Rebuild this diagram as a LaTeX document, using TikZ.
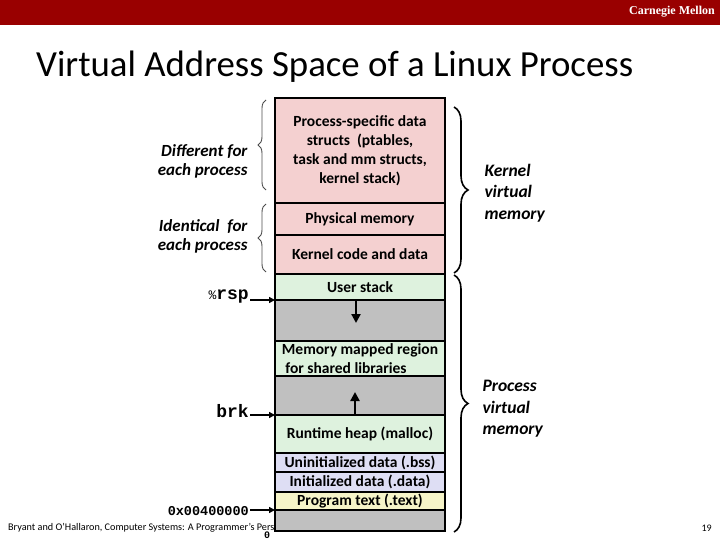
\documentclass[tikz,border=0pt]{standalone}
\usepackage{fontspec}
\setmainfont{Carlito}
\newfontfamily\monof{Liberation Mono}
\newfontfamily\serifh{Liberation Serif}
\usetikzlibrary{decorations.pathreplacing,arrows.meta}
\definecolor{hdr}{RGB}{153,0,0}
\definecolor{kpink}{RGB}{244,208,208}
\definecolor{ugreen}{RGB}{222,242,222}
\definecolor{ugray}{RGB}{192,192,192}
\definecolor{ulav}{RGB}{222,222,244}
\definecolor{uyel}{RGB}{246,244,200}
\begin{document}
\begin{tikzpicture}[x=1pt,y=-1pt,
  seg/.style={draw=black,line width=1.8pt,minimum width=170pt,anchor=north west,
    inner sep=0pt,outer sep=0pt,align=center,
    font=\fontsize{15.5}{19}\selectfont\bfseries},
  side/.style={font=\fontsize{17}{19}\selectfont\bfseries\itshape},
  rside/.style={font=\fontsize{17.5}{21.5}\selectfont\bfseries\itshape,anchor=west,align=left},
  addr/.style={font=\fontsize{18}{20}\selectfont\monof\bfseries,anchor=east,inner sep=1pt},
  ptr/.style={-{Triangle[length=6pt,width=6pt]},line width=2pt},
  growarrow/.style={-{Triangle[length=9pt,width=9pt]},line width=2.5pt},
  lbrace/.style={decorate,decoration={brace,amplitude=8pt},draw=black!70,line width=0.9pt},
  rbrace/.style={decorate,decoration={brace,amplitude=14pt},draw=black,line width=1.6pt}]
\useasboundingbox (0,0) rectangle (720,540);
\fill[hdr] (0,0) rectangle (720,25);
\node[anchor=east,text=white,font=\fontsize{12}{12}\selectfont\serifh\bfseries,inner sep=0pt] (cmu) at (715,12) {Carnegie Mellon};
\node[anchor=base west,inner sep=0pt,font=\fontsize{36.8}{40}\selectfont] (title) at (36,77) {Virtual Address Space of a Linux Process};
% footer (partly hidden behind the box)
\node[anchor=west,inner sep=0pt,font=\fontsize{10.2}{11}\selectfont] (foot) at (8,528) {Bryant and O’Hallaron, Computer Systems: A Programmer’s Perspective, Third Edition};
\node[anchor=east,inner sep=0pt,font=\fontsize{10}{11}\selectfont] (pg) at (712,528) {19};
% memory segments
\node[seg,fill=kpink,minimum height=105pt] (ps) at (275,98) {Process-specific data\\structs\ \ (ptables,\\task and mm structs,\\kernel stack)};
\node[seg,fill=kpink,minimum height=32pt] (pm) at (ps.south west) {Physical memory};
\node[seg,fill=kpink,minimum height=39pt] (kc) at (pm.south west) {Kernel code and data};
\node[seg,fill=ugreen,minimum height=26pt] (us) at (kc.south west) {User stack};
\node[seg,fill=ugray,minimum height=41pt] (g1) at (us.south west) {};
\node[seg,fill=ugreen,minimum height=35pt,align=left] (mm) at (g1.south west) {Memory mapped region\\\ for shared libraries};
\node[seg,fill=ugray,minimum height=39pt] (g2) at (mm.south west) {};
\node[seg,fill=ugreen,minimum height=38pt] (rh) at (g2.south west) {Runtime heap (malloc)};
\node[seg,fill=ulav,minimum height=19pt] (bss) at (rh.south west) {Uninitialized data (.bss)};
\node[seg,fill=ulav,minimum height=20pt] (dat) at (bss.south west) {Initialized data (.data)};
\node[seg,fill=uyel,minimum height=18pt] (txt) at (dat.south west) {Program text (.text)};
\node[seg,fill=ugray,minimum height=21pt] (g3) at (txt.south west) {};
% growth arrows
\coordinate (dnend) at ([xshift=-4pt,yshift=-23pt]us.south);
\draw[growarrow] ([xshift=-4pt]us.south) -- (dnend);
\coordinate (upend) at ([xshift=-5pt,yshift=23pt]rh.north);
\draw[growarrow] ([xshift=-5pt]rh.north) -- (upend);
% address labels
\node[addr] (rsp) at (250,297) {{\fontsize{13}{14}\selectfont\mdseries\%}rsp};
\draw[ptr] (rsp.east |- us.south west) -- (us.south west);
\node[addr] (brk) at (250,411) {brk};
\draw[ptr] (brk.east |- rh.north west) -- (rh.north west);
\node[addr,font=\fontsize{13.5}{15}\selectfont\monof\bfseries] (start) at (250,511) {0x00400000};
\draw[ptr] (start.east |- txt.south west) -- (txt.south west);
\node[anchor=south,inner sep=0pt,font=\fontsize{10}{11}\selectfont\monof\bfseries] (zero) at (267,538.5) {0};
% left braces
\draw[lbrace] (266,190) -- (266,100);
\draw[lbrace] (266,272) -- (266,204);
\node[side,anchor=east,align=right] (diff) at (251,161) {Different for\\each process};
\node[side,anchor=east,align=right] (ident) at (251,236) {Identical\ \ for\\each process};
% right braces
\draw[rbrace] (454,107) -- (454,273);
\draw[rbrace] (454,275) -- (454,532);
\node[rside] (kvm) at (481,193) {Kernel\\virtual\\memory};
\node[rside] (pvm) at (479,409) {Process\\virtual\\memory};
\end{tikzpicture}
\end{document}
